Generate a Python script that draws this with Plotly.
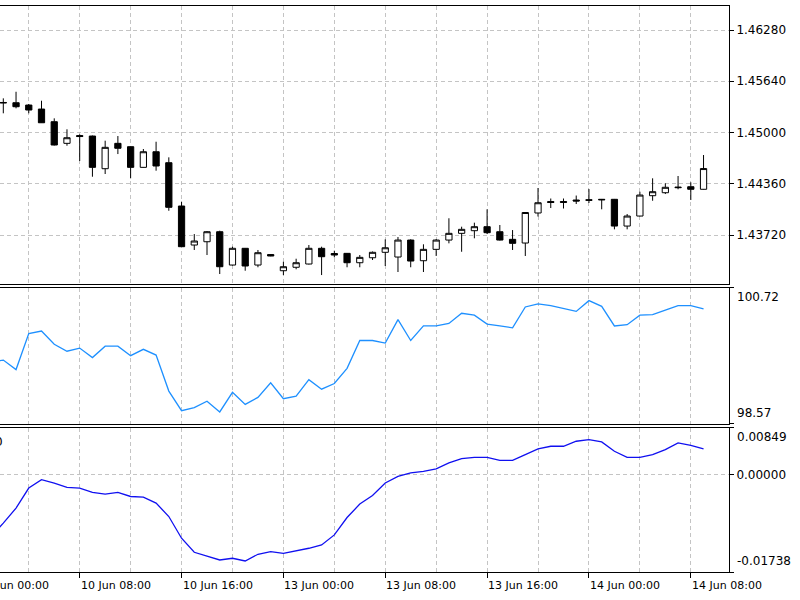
import plotly.graph_objects as go

# ---------------- data ----------------
bar_index = list(range(56))
opens = [1.45368, 1.45372, 1.45343, 1.45293, 1.45135, 1.44865, 1.44962, 1.44956, 1.44548, 1.44865,
         1.44823, 1.44565, 1.44760, 1.44623, 1.44082, 1.43595, 1.43636, 1.43761, 1.43345, 1.43554,
         1.43345, 1.43476, 1.43274, 1.43317, 1.43358, 1.43554, 1.43489, 1.43491, 1.43374, 1.43436,
         1.43504, 1.43445, 1.43657, 1.43399, 1.43541, 1.43657, 1.43741, 1.43774, 1.43824, 1.43761,
         1.43666, 1.43620, 1.43995, 1.44138, 1.44138, 1.44157, 1.44160, 1.44166, 1.44166, 1.43832,
         1.43957, 1.44211, 1.44248, 1.44319, 1.44323, 1.44291]
highs = [1.45427, 1.45509, 1.45356, 1.45397, 1.45177, 1.45040, 1.44977, 1.44962, 1.44898, 1.44956,
         1.44825, 1.44794, 1.44885, 1.44690, 1.44136, 1.43732, 1.43770, 1.43774, 1.43574, 1.43558,
         1.43533, 1.43479, 1.43386, 1.43424, 1.43595, 1.43574, 1.43524, 1.43495, 1.43470, 1.43514,
         1.43666, 1.43695, 1.43666, 1.43604, 1.43670, 1.43929, 1.43824, 1.43874, 1.44041, 1.43845,
         1.43782, 1.44007, 1.44307, 1.44176, 1.44176, 1.44213, 1.44294, 1.44170, 1.44170, 1.43982,
         1.44261, 1.44428, 1.44366, 1.44457, 1.44378, 1.44719]
lows = [1.45240, 1.45302, 1.45240, 1.45119, 1.44838, 1.44835, 1.44644, 1.44448, 1.44482, 1.44731,
        1.44428, 1.44563, 1.44523, 1.44023, 1.43570, 1.43533, 1.43470, 1.43233, 1.43339, 1.43274,
        1.43317, 1.43455, 1.43220, 1.43292, 1.43352, 1.43220, 1.43441, 1.43317, 1.43317, 1.43408,
        1.43333, 1.43258, 1.43317, 1.43258, 1.43458, 1.43616, 1.43511, 1.43679, 1.43732, 1.43651,
        1.43533, 1.43458, 1.43951, 1.44057, 1.44051, 1.44107, 1.44120, 1.44041, 1.43791, 1.43791,
        1.43953, 1.44148, 1.44232, 1.44291, 1.44157, 1.44288]
closes = [1.45375, 1.45322, 1.45281, 1.45122, 1.44844, 1.44935, 1.44950, 1.44565, 1.44815, 1.44803,
          1.44565, 1.44760, 1.44582, 1.44066, 1.43574, 1.43645, 1.43761, 1.43324, 1.43554, 1.43333,
          1.43499, 1.43458, 1.43324, 1.43374, 1.43554, 1.43449, 1.43470, 1.43374, 1.43441, 1.43504,
          1.43561, 1.43657, 1.43395, 1.43541, 1.43657, 1.43741, 1.43791, 1.43824, 1.43749, 1.43657,
          1.43616, 1.44001, 1.44123, 1.44126, 1.44128, 1.44145, 1.44154, 1.44160, 1.43832, 1.43957,
          1.44219, 1.44261, 1.44316, 1.44312, 1.44291, 1.44550]

ind_index = list(range(-1, 56))
indicator1 = [99.55, 99.58, 99.43, 100.00, 100.04, 99.83, 99.72, 99.77, 99.62, 99.80,
              99.80, 99.65, 99.75, 99.66, 99.09, 98.78, 98.83, 98.93, 98.76, 99.07,
              98.88, 98.99, 99.22, 98.97, 99.01, 99.27, 99.12, 99.21, 99.45, 99.89,
              99.89, 99.85, 100.22, 99.89, 100.12, 100.12, 100.16, 100.32, 100.29, 100.15,
              100.12, 100.09, 100.42, 100.47, 100.44, 100.39, 100.35, 100.52, 100.43, 100.12,
              100.14, 100.29, 100.30, 100.37, 100.44, 100.44, 100.39]
indicator2 = [-0.01110, -0.00863, -0.00594, -0.00235, -0.00085, -0.00145, -0.00224, -0.00235, -0.00314, -0.00342,
              -0.00314, -0.00386, -0.00396, -0.00504, -0.00745, -0.01133, -0.01385, -0.01451, -0.01523, -0.01492,
              -0.01541, -0.01421, -0.01374, -0.01403, -0.01361, -0.01313, -0.01253, -0.01074, -0.00763, -0.00522,
              -0.00368, -0.00145, -0.00026, 0.00035, 0.00064, 0.00107, 0.00215, 0.00292, 0.00315, 0.00315,
              0.00261, 0.00261, 0.00364, 0.00466, 0.00513, 0.00513, 0.00603, 0.00633, 0.00592, 0.00423,
              0.00315, 0.00315, 0.00364, 0.00454, 0.00574, 0.00531, 0.00466]

time_tick_index = [-2, 6, 14, 22, 30, 38, 46, 54]
time_tick_text = ["10 Jun 00:00", "10 Jun 08:00", "10 Jun 16:00", "13 Jun 00:00",
                  "13 Jun 08:00", "13 Jun 16:00", "14 Jun 00:00", "14 Jun 08:00"]
price_ticks = [1.43720, 1.44360, 1.45000, 1.45640, 1.46280]
price_tick_text = ["1.43720", "1.44360", "1.45000", "1.45640", "1.46280"]
ind1_range = [98.57, 100.72]
ind1_text = ["98.57", "100.72"]
ind2_range = [-0.01738, 0.00849]
ind2_text = ["-0.01738", "0.00000", "0.00849"]

# ---------------- style ----------------
X_RANGE = [-0.26, 57.0]
GRID = dict(showgrid=True, gridcolor="#c4c4c4", griddash="4px,3px", gridwidth=1)
FONT = "DejaVu Sans"

fig = go.Figure()

fig.add_trace(go.Candlestick(
    x=bar_index, open=opens, high=highs, low=lows, close=closes,
    increasing=dict(line=dict(color="black", width=1), fillcolor="white"),
    decreasing=dict(line=dict(color="black", width=1), fillcolor="black"),
    whiskerwidth=0, xaxis="x", yaxis="y", showlegend=False, hoverinfo="skip"))

fig.add_trace(go.Scatter(x=ind_index, y=indicator1, mode="lines",
                         line=dict(color="#1E90FF", width=1.3),
                         xaxis="x2", yaxis="y2", showlegend=False, hoverinfo="skip"))

fig.add_trace(go.Scatter(x=ind_index, y=indicator2, mode="lines",
                         line=dict(color="#1010F0", width=1.3),
                         xaxis="x3", yaxis="y3", showlegend=False, hoverinfo="skip"))

xcommon = dict(range=X_RANGE, tickmode="linear", tick0=-2, dtick=8,
               minor=dict(tick0=-2, dtick=4, showgrid=True, gridcolor="#c4c4c4",
                          griddash="4px,3px", ticks=""),
               showline=True, mirror=True, linecolor="black", linewidth=1,
               zeroline=False, fixedrange=True, **GRID)

fig.update_layout(
    width=800, height=600,
    margin=dict(l=0, r=71, t=6, b=28),
    paper_bgcolor="white", plot_bgcolor="white",
    font=dict(family=FONT, size=12, color="black"),
    showlegend=False,
    xaxis=dict(domain=[0, 1], anchor="y", showticklabels=False, ticks="",
               rangeslider=dict(visible=False), **xcommon),
    xaxis2=dict(domain=[0, 1], anchor="y2", showticklabels=False, ticks="", **xcommon),
    xaxis3=dict(domain=[0, 1], anchor="y3", showticklabels=False, ticks="outside",
                ticklen=5, tickcolor="black", tickwidth=1, **xcommon),
    yaxis=dict(domain=[0.5088, 1.0], anchor="x", side="right", range=[1.43108, 1.46580],
               tickmode="array", tickvals=price_ticks, ticktext=price_tick_text,
               ticks="outside", ticklen=4, tickcolor="black",
               tickfont=dict(family=FONT, size=12, color="black"),
               showline=True, linecolor="black", linewidth=1, zeroline=False,
               fixedrange=True, **GRID),
    yaxis2=dict(domain=[0.2615, 0.5018], anchor="x2", side="right", range=ind1_range,
                tickmode="array", tickvals=ind1_range, ticktext=["", ""],
                ticks="outside", ticklen=4, tickcolor="black",
                showgrid=False, showline=True, linecolor="black", linewidth=1,
                zeroline=False, fixedrange=True),
    yaxis3=dict(domain=[0.0, 0.2553], anchor="x3", side="right", range=ind2_range,
                tickmode="array", tickvals=[ind2_range[0], 0.0, ind2_range[1]],
                ticktext=["", ind2_text[1], ""],
                ticks="outside", ticklen=4, tickcolor="black",
                tickfont=dict(family=FONT, size=12, color="black"),
                showline=True, linecolor="black", linewidth=1, zeroline=False,
                fixedrange=True, **GRID),
)

annotations = []
# time labels (left-aligned at their ticks, MetaTrader style)
for idx, txt in zip(time_tick_index, time_tick_text):
    if idx < X_RANGE[0]:
        ann = dict(xref="paper", x=(idx - X_RANGE[0]) / (X_RANGE[1] - X_RANGE[0]))
    else:
        ann = dict(xref="x3", x=idx)
    ann.update(yref="paper", y=0, yanchor="top", yshift=-5, xanchor="left", xshift=-1,
               text=txt, showarrow=False, font=dict(family=FONT, size=11, color="black"))
    annotations.append(ann)

# indicator scale end labels
for yref, yv, anchor, txt, ys in [("y2 domain", 1, "top", ind1_text[1], 0),
                                  ("y2 domain", 0, "bottom", ind1_text[0], 2),
                                  ("y3 domain", 1, "top", ind2_text[2], 0),
                                  ("y3 domain", 0, "bottom", ind2_text[0], 2)]:
    annotations.append(dict(xref="paper", x=1, xanchor="left", xshift=6,
                            yref=yref, y=yv, yanchor=anchor, yshift=ys,
                            text=txt, showarrow=False,
                            font=dict(family=FONT, size=12, color="black")))

# cut-off indicator caption at the left of the lower panel
annotations.append(dict(xref="paper", x=0, xanchor="right", xshift=5,
                        yref="y3 domain", y=0.9, yanchor="middle",
                        text="0", showarrow=False,
                        font=dict(family=FONT, size=12, color="black")))

fig.update_layout(annotations=annotations)

fig.write_html("out.html")
